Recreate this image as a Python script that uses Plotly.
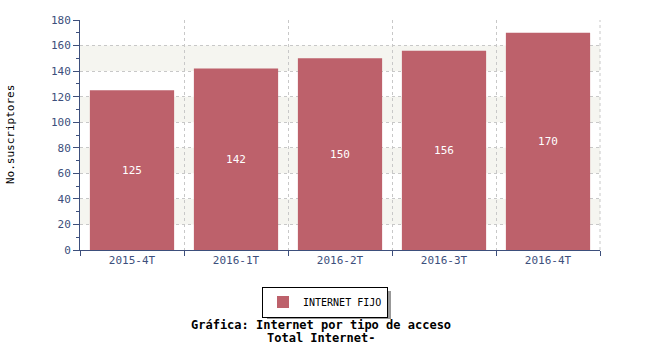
import plotly.graph_objects as go

categories = ["2015-4T", "2016-1T", "2016-2T", "2016-3T", "2016-4T"]
values = [125, 142, 150, 156, 170]
series_name = "INTERNET FIJO"
y_title = "No.suscriptores"
title_lines = ["Gráfica: Internet por tipo de acceso", "Total Internet-"]

BAR = "#bd616b"
AXIS = "#3d4f7c"
MONO = "DejaVu Sans Mono"
GRID = "#c8c8c8"
DASH = "3px,3px"

W, H = 650, 350
L, R, T, B = 80, 50, 20, 100
ph = H - T - B

fig = go.Figure()
fig.add_trace(go.Bar(
    x=categories, y=values, name=series_name,
    marker=dict(color=BAR, line=dict(width=0)),
    text=[str(v) for v in values], textposition="inside",
    insidetextanchor="middle",
    textfont=dict(color="white", family=MONO, size=11),
    showlegend=True,
))

# alternating background bands
shapes = []
for lo in range(20, 180, 40):
    shapes.append(dict(type="rect", xref="paper", yref="y", x0=0, x1=1, y0=lo, y1=lo + 20,
                       fillcolor="#f5f5f0", line=dict(width=0), layer="below"))

def py(px):
    return (H - B - px) / ph

def pxx(px):
    return (px - L) / (W - L - R)

# legend shadow
shapes.append(dict(type="rect", xref="paper", yref="paper",
                   x0=pxx(267), x1=pxx(391), y0=py(319), y1=py(291),
                   fillcolor="#999999", line=dict(width=0), layer="below"))

fig.update_layout(
    width=W, height=H,
    margin=dict(l=L, r=R, t=T, b=B),
    paper_bgcolor="white", plot_bgcolor="white",
    bargap=0.19,
    shapes=shapes,
    font=dict(family=MONO, size=11, color=AXIS),
    legend=dict(orientation="h", x=pxx(325), xanchor="center", y=py(302), yanchor="middle",
                bgcolor="white", bordercolor="black", borderwidth=1, itemwidth=30,
                font=dict(family=MONO, size=10, color="black")),
    xaxis=dict(
        type="category", tickson="boundaries", automargin=False,
        showline=True, linecolor=AXIS, linewidth=1,
        ticks="outside", ticklen=5, tickcolor=AXIS,
        showgrid=True, gridcolor=GRID, griddash=DASH, gridwidth=1,
        tickfont=dict(family=MONO, size=11, color=AXIS),
        range=[-0.5, 4.5],
    ),
    yaxis=dict(
        range=[0, 180], dtick=20, automargin=False,
        showline=True, linecolor=AXIS, linewidth=1,
        ticks="outside", ticklen=6, tickcolor=AXIS,
        minor=dict(dtick=10, ticks="outside", ticklen=3, tickcolor=AXIS, showgrid=False),
        showgrid=True, gridcolor=GRID, griddash=DASH, gridwidth=1,
        zeroline=False,
        tickfont=dict(family=MONO, size=11, color=AXIS),
    ),
    annotations=[
        dict(text=y_title, xref="paper", yref="paper", textangle=-90,
             x=pxx(10), y=0.5, xanchor="center", yanchor="middle", showarrow=False,
             font=dict(family=MONO, size=11, color="black")),
        dict(text="<b>%s</b>" % title_lines[0], xref="paper", yref="paper",
             x=pxx(321), y=py(325), xanchor="center", yanchor="middle", showarrow=False,
             font=dict(family=MONO, size=12, color="black")),
        dict(text="<b>%s</b>" % title_lines[1], xref="paper", yref="paper",
             x=pxx(321), y=py(338), xanchor="center", yanchor="middle", showarrow=False,
             font=dict(family=MONO, size=12, color="black")),
    ],
)

fig.add_shape(type="line", xref="paper", yref="paper", x0=1, x1=1, y0=0, y1=1,
              line=dict(color=GRID, width=1, dash=DASH))

fig.write_html("out.html")
